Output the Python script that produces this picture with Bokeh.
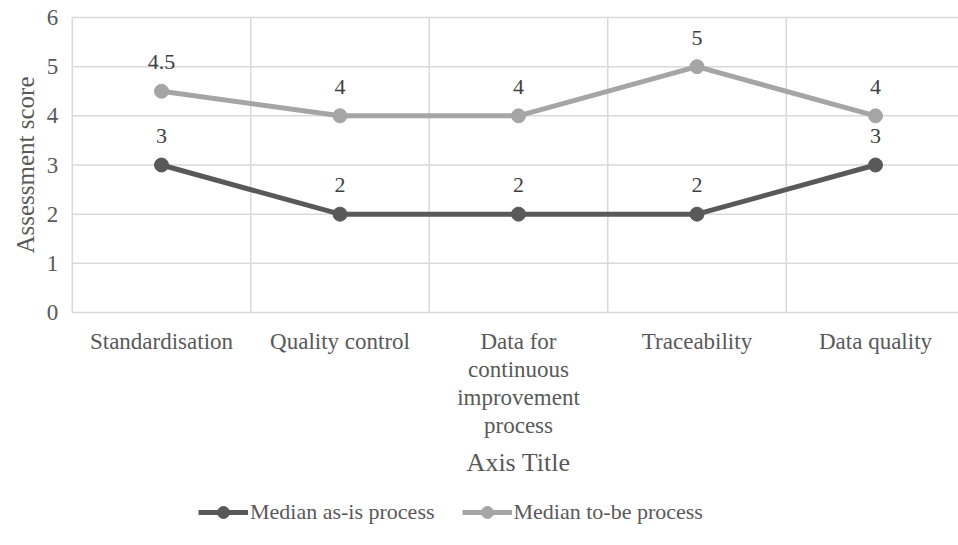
import math
from bokeh.plotting import figure
from bokeh.models import (ColumnDataSource, Range1d, Legend, LegendItem)
from bokeh.core.properties import value
from bokeh.embed import file_html
from bokeh.resources import INLINE

categories = ["Standardisation", "Quality control",
              "Data for\ncontinuous\nimprovement\nprocess",
              "Traceability", "Data quality"]
as_is = [3, 2, 2, 2, 3]
to_be = [4.5, 4, 4, 5, 4]
as_is_labels = ["3", "2", "2", "2", "3"]
to_be_labels = ["4.5", "4", "4", "5", "4"]
y_ticks = [0, 1, 2, 3, 4, 5, 6]
y_tick_labels = ["0", "1", "2", "3", "4", "5", "6"]
x_title = "Axis Title"
y_title = "Assessment score"

FONT = "Liberation Serif"
DARK = "#595959"
LIGHT = "#A5A5A5"
TXT = "#595959"
GRID = "#D9D9D9"

n = len(categories)
xs = list(range(n))
x_lo, x_hi = -0.5, n - 0.5
y_lo, y_hi = min(y_ticks), max(y_ticks)

# Frame covers the whole canvas; the value area (0..6, -0.5..4.5) sits at
# 73..963 px horizontally and 17..312 px vertically.
p = figure(width=958, height=545, output_backend="svg", toolbar_location=None,
           x_range=Range1d(-0.902, 4.465), y_range=Range1d(-4.739, 6.346),
           min_border=0, x_axis_location=None, y_axis_location=None)
p.outline_line_color = None
p.background_fill_color = "white"
p.border_fill_color = "white"
p.xgrid.visible = False
p.ygrid.visible = False

# gridlines
p.segment(x0=[x_lo] * len(y_ticks), x1=[x_hi] * len(y_ticks), y0=y_ticks, y1=y_ticks,
          line_color=GRID, line_width=1.5)
bounds = [i - 0.5 for i in range(n + 1)]
p.segment(x0=bounds, x1=bounds, y0=[y_lo] * len(bounds), y1=[y_hi] * len(bounds),
          line_color=GRID, line_width=1.5)

# y tick labels
p.text(x=[x_lo] * len(y_ticks), y=y_ticks, text=y_tick_labels, x_offset=-14,
       text_font=value(FONT), text_font_size="23px", text_color=TXT,
       text_align="right", text_baseline="middle")
# y title
p.text(x=[x_lo], y=[(y_lo + y_hi) / 2], text=[y_title], x_offset=-47, angle=math.pi / 2,
       text_font=value(FONT), text_font_size="25px", text_color=TXT,
       text_align="center", text_baseline="middle")
# category labels
p.text(x=xs, y=[y_lo] * n, text=categories, y_offset=16,
       text_font=value(FONT), text_font_size="23px", text_color=TXT,
       text_align="center", text_baseline="top", text_line_height=1.12)
# x title
p.text(x=[(xs[0] + xs[-1]) / 2], y=[y_lo], text=[x_title], y_offset=150,
       text_font=value(FONT), text_font_size="26px", text_color=TXT,
       text_align="center", text_baseline="middle")

src_a = ColumnDataSource(dict(x=xs, y=as_is, lab=as_is_labels))
src_b = ColumnDataSource(dict(x=xs, y=to_be, lab=to_be_labels))

la = p.line("x", "y", source=src_a, line_color=DARK, line_width=5)
sa = p.scatter("x", "y", source=src_a, size=14, fill_color=DARK, line_color=DARK)
lb = p.line("x", "y", source=src_b, line_color=LIGHT, line_width=5)
sb = p.scatter("x", "y", source=src_b, size=14, fill_color=LIGHT, line_color=LIGHT)

for src in (src_a, src_b):
    p.text("x", "y", text="lab", source=src, text_font=value(FONT),
           text_font_size="22px", text_color="#404040", text_align="center",
           text_baseline="bottom", y_offset=-22)

legend = Legend(items=[LegendItem(label="Median as-is process", renderers=[la, sa]),
                       LegendItem(label="Median to-be process", renderers=[lb, sb])],
                orientation="horizontal", location=(198, 18),
                label_text_font=FONT, label_text_font_size="22px",
                label_text_color=TXT, glyph_width=50, glyph_height=30,
                label_standoff=2, spacing=27, border_line_color=None,
                background_fill_alpha=0, margin=0, padding=2)
p.add_layout(legend)

open("out.html", "w").write(file_html(p, INLINE))
